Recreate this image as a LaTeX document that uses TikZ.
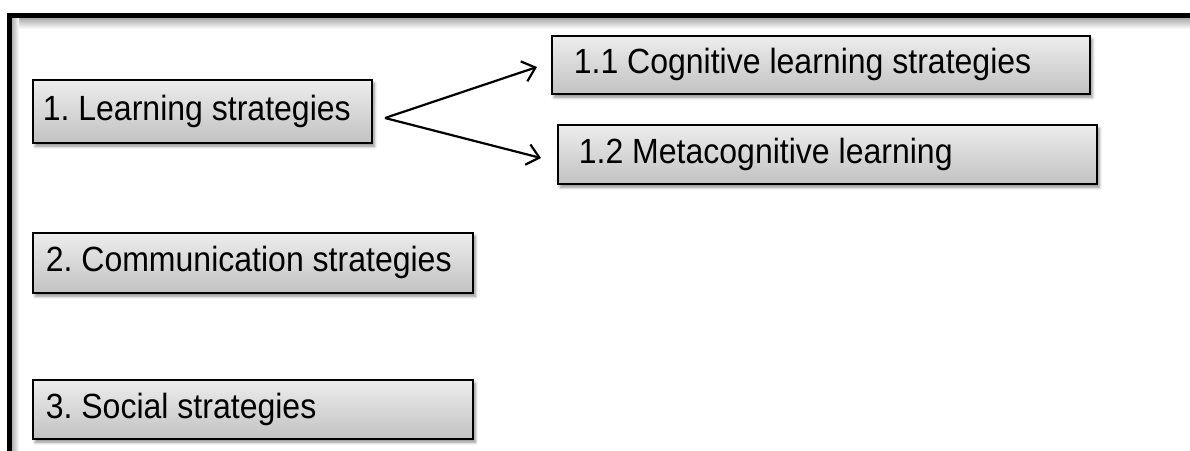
\documentclass[tikz,border=0pt]{standalone}
\usepackage{fontspec}
\setmainfont{Liberation Sans}[FakeStretch=0.915]
\usetikzlibrary{arrows.meta,shadows.blur}
\frenchspacing

\begin{document}
\begin{tikzpicture}[x=1pt,y=-1pt,
  box/.style={draw=black, line width=1.6pt,
    top color=black!7, bottom color=black!24,
    blur shadow={shadow xshift=2.5pt, shadow yshift=-3.5pt,
      shadow blur radius=3pt, shadow opacity=45},
    anchor=north west, align=flush left,
    font=\fontsize{35}{40}\selectfont},
  arr/.style={line width=2.2pt, -{Straight Barb[length=12pt,width=21pt,line width=2.2pt]}}]

  \useasboundingbox (0,0) rectangle (1190,450);
  \clip (0,0) rectangle (1190,450);

  % page frame: heavy rule along the top and the left, with a soft shade inside
  \shade[top color=black!35, bottom color=white] (9,17.5) rectangle (1190,29);
  \shade[left color=black!30, right color=white] (12,17.5) rectangle (19,450);
  \draw[line width=5pt] (9.5,460) -- (9.5,15) -- (1200,15);

  % boxes
  \node[box, inner xsep=10pt, text width=319pt, minimum height=63pt]
    (ls) at (32,79) {1. Learning strategies};
  \node[box, inner xsep=22pt, text width=494pt, minimum height=58pt]
    (cog) at (551,35) {1.1 Cognitive learning strategies};
  \node[box, inner xsep=21pt, text width=497pt, minimum height=59pt]
    (meta) at (557,124) {1.2 Metacognitive learning};
  \node[box, inner xsep=13pt, text width=414pt, minimum height=60pt]
    (com) at (32,232) {2. Communication strategies};
  \node[box, inner xsep=13pt, text width=414pt, minimum height=59pt]
    (soc) at (32,379) {3. Social strategies};

  % branching arrows
  \coordinate (fork) at (385,118);
  \coordinate (tipcog) at (537,67);
  \coordinate (tipmeta) at (541,158);
  \draw[arr] (fork) -- (tipcog);
  \draw[arr] (fork) -- (tipmeta);
\end{tikzpicture}
\end{document}
